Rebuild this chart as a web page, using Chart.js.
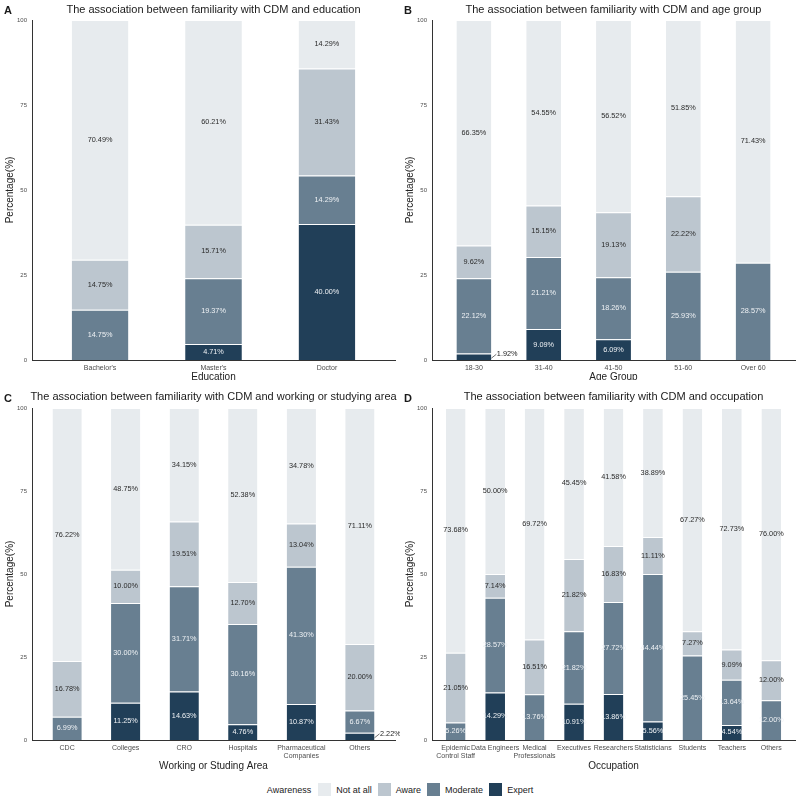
<!DOCTYPE html>
<html>
<head>
<meta charset="utf-8">
<script src="https://cdn.jsdelivr.net/npm/chart.js@4.4.0/dist/chart.umd.min.js"></script>
<style>
  html, body { margin: 0; padding: 0; background: #fff; }
  body { width: 800px; height: 800px; position: relative; overflow: hidden; font-family: "Liberation Sans", Arial, sans-serif; }
  canvas { position: absolute; }
  #legend { position: absolute; top: 783px; left: 0; width: 800px; display: flex; justify-content: center; align-items: center; font-size: 9px; color: #222; }
  #legend .box { width: 13px; height: 13px; margin: 0 5px 0 6px; }
</style>
</head>
<body>
<canvas id="chartA" width="400" height="380" style="left:0;top:0"></canvas>
<canvas id="chartB" width="400" height="380" style="left:400px;top:0"></canvas>
<canvas id="chartC" width="400" height="400" style="left:0;top:380px"></canvas>
<canvas id="chartD" width="400" height="400" style="left:400px;top:380px"></canvas>
<div id="legend"></div>

<script>
// Awareness levels, from bottom of the stack to the top
const levels = ['Expert', 'Moderate', 'Aware', 'Not at all'];
const levelColors = ['#213f58', '#687f91', '#bcc6cf', '#e7ebee'];

// A - education
const eduLabels = ["Bachelor's", "Master's", 'Doctor'];
const eduExpert = [0, 4.71, 40.00];
const eduModerate = [14.75, 19.37, 14.29];
const eduAware = [14.75, 15.71, 31.43];
const eduNotAtAll = [70.49, 60.21, 14.29];

// B - age group
const ageLabels = ['18-30', '31-40', '41-50', '51-60', 'Over 60'];
const ageExpert = [1.92, 9.09, 6.09, 0, 0];
const ageModerate = [22.12, 21.21, 18.26, 25.93, 28.57];
const ageAware = [9.62, 15.15, 19.13, 22.22, 0];
const ageNotAtAll = [66.35, 54.55, 56.52, 51.85, 71.43];

// C - working or studying area
const areaLabels = ['CDC', 'Colleges', 'CRO', 'Hospitals', ['Pharmaceutical', 'Companies'], 'Others'];
const areaExpert = [0, 11.25, 14.63, 4.76, 10.87, 2.22];
const areaModerate = [6.99, 30.00, 31.71, 30.16, 41.30, 6.67];
const areaAware = [16.78, 10.00, 19.51, 12.70, 13.04, 20.00];
const areaNotAtAll = [76.22, 48.75, 34.15, 52.38, 34.78, 71.11];

// D - occupation
const occLabels = [['Epidemic', 'Control Staff'], 'Data Engineers', ['Medical', 'Professionals'], 'Executives',
  'Researchers', 'Statisticians', 'Students', 'Teachers', 'Others'];
const occExpert = [0, 14.29, 0, 10.91, 13.86, 5.56, 0, 4.54, 0];
const occModerate = [5.26, 28.57, 13.76, 21.82, 27.72, 44.44, 25.45, 13.64, 12.00];
const occAware = [21.05, 7.14, 16.51, 21.82, 16.83, 11.11, 7.27, 9.09, 12.00];
const occNotAtAll = [73.68, 50.00, 69.72, 45.45, 41.58, 38.89, 67.27, 72.73, 76.00];

const yTicks = [0, 25, 50, 75, 100];

const FONT = '"Liberation Sans", Arial, sans-serif';
Chart.defaults.font.family = FONT;

// percentage text in the middle of each segment
const segmentLabels = {
  id: 'segmentLabels',
  afterDatasetsDraw(chart) {
    const ctx = chart.ctx;
    ctx.save();
    ctx.font = '7.3px ' + FONT;
    ctx.textBaseline = 'middle';
    chart.data.datasets.forEach((ds, i) => {
      const meta = chart.getDatasetMeta(i);
      meta.data.forEach((bar, j) => {
        const v = ds.data[j].y;
        if (!v) return;
        const yMid = (bar.y + bar.base) / 2;
        const text = v.toFixed(2) + '%';
        if (v < 3) {
          // too small, put it beside the bar with a short leader
          const x0 = bar.x + bar.width / 2;
          ctx.strokeStyle = '#333';
          ctx.lineWidth = 0.7;
          ctx.beginPath();
          ctx.moveTo(x0, yMid + 1.5);
          ctx.lineTo(x0 + 5, yMid - 2.5);
          ctx.stroke();
          ctx.fillStyle = '#222';
          ctx.textAlign = 'left';
          ctx.fillText(text, x0 + 5.5, yMid - 2.5);
        } else {
          ctx.fillStyle = i < 2 ? '#eef1f4' : '#2b2b2b';
          ctx.textAlign = 'center';
          ctx.fillText(text, bar.x, yMid);
        }
      });
    });
    ctx.restore();
  }
};

function panelText(letter, title, y) {
  return {
    id: 'panelText',
    afterDraw(chart) {
      const { ctx, chartArea } = chart;
      ctx.save();
      ctx.textBaseline = 'middle';
      ctx.fillStyle = '#1a1a1a';
      ctx.font = '11px ' + FONT;
      ctx.textAlign = 'center';
      ctx.fillText(title, (chartArea.left + chartArea.right) / 2, y);
      ctx.font = 'bold 11px ' + FONT;
      ctx.textAlign = 'left';
      ctx.fillText(letter, 4, y + 1.5);
      ctx.restore();
    }
  };
}

function makePanel(id, letter, title, xTitle, labels, series, geo) {
  const n = labels.length;
  const datasets = series.map((values, i) => ({
    label: levels[i],
    data: values.map((v, k) => ({ x: k + 1, y: v })),
    backgroundColor: levelColors[i],
    borderColor: 'rgba(255,255,255,0.3)',
    borderWidth: { top: 1, bottom: 0, left: 0, right: 0 },
    borderSkipped: false
  }));

  new Chart(document.getElementById(id), {
    type: 'bar',
    data: { datasets: datasets },
    options: {
      responsive: false,
      animation: false,
      layout: { padding: { top: geo.top, right: 5, left: 0, bottom: 0 } },
      datasets: { bar: { barPercentage: 0.5, categoryPercentage: 1 } },
      plugins: { legend: { display: false }, tooltip: { enabled: false } },
      scales: {
        x: {
          type: 'linear',
          stacked: true,
          offset: false,
          min: 0.4,
          max: n + 0.6,
          grid: { display: false, drawTicks: false },
          border: { display: true, color: '#333', width: 1 },
          afterBuildTicks: axis => { axis.ticks = labels.map((_, i) => ({ value: i + 1 })); },
          afterFit: axis => { axis.height = geo.xHeight; },
          ticks: {
            autoSkip: false, maxRotation: 0, minRotation: 0,
            font: { size: 7, lineHeight: 1.15 }, color: '#4d4d4d', padding: 4,
            callback: v => labels[Math.round(v) - 1]
          },
          title: {
            display: true, text: xTitle, color: '#222',
            font: { size: 10, lineHeight: 1.2 },
            padding: { top: 0, bottom: geo.xTitlePad }
          }
        },
        y: {
          stacked: true,
          min: 0,
          max: 100,
          grid: { display: false, drawTicks: false },
          border: { display: true, color: '#333', width: 1 },
          afterBuildTicks: axis => { axis.ticks = yTicks.map(v => ({ value: v })); },
          afterFit: axis => { axis.width = 32; },
          ticks: { font: { size: 6 }, color: '#4d4d4d', padding: 5 },
          title: {
            display: true, text: 'Percentage(%)', color: '#222',
            font: { size: 10, lineHeight: 1.2 },
            padding: { top: 4, bottom: 0 }
          }
        }
      }
    },
    plugins: [segmentLabels, panelText(letter, title, geo.titleY)]
  });
}

const topGeo = { top: 20, xHeight: 20, xTitlePad: -3, titleY: 9.5 };
const bottomGeo = { top: 28, xHeight: 40, xTitlePad: 8, titleY: 17 };

makePanel('chartA', 'A', 'The association between familiarity with CDM and education', 'Education',
  eduLabels, [eduExpert, eduModerate, eduAware, eduNotAtAll], topGeo);
makePanel('chartB', 'B', 'The association between familiarity with CDM and age group', 'Age Group',
  ageLabels, [ageExpert, ageModerate, ageAware, ageNotAtAll], topGeo);
makePanel('chartC', 'C', 'The association between familiarity with CDM and working or studying area', 'Working or Studing Area',
  areaLabels, [areaExpert, areaModerate, areaAware, areaNotAtAll], bottomGeo);
makePanel('chartD', 'D', 'The association between familiarity with CDM and occupation', 'Occupation',
  occLabels, [occExpert, occModerate, occAware, occNotAtAll], bottomGeo);

// shared legend, top-to-bottom order
const legend = document.getElementById('legend');
let html = '<span style="margin-right:1px">Awareness</span>';
for (let i = levels.length - 1; i >= 0; i--) {
  html += '<span class="box" style="background:' + levelColors[i] + '"></span><span>' + levels[i] + '</span>';
}
legend.innerHTML = html;
</script>
</body>
</html>
